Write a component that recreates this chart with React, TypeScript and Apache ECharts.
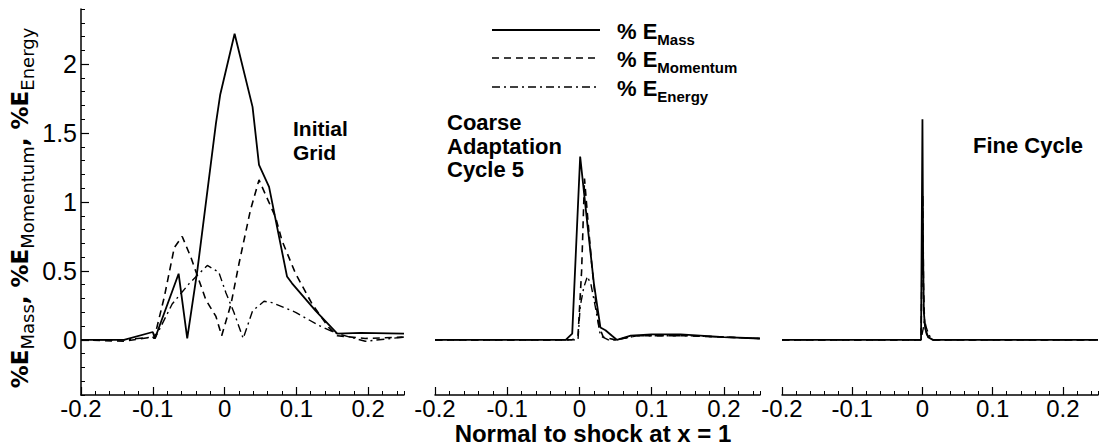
import React, { useEffect, useRef } from 'react';
import * as echarts from 'echarts';

// ---------- data ----------
const xMajorTicks = [-0.2, -0.1, 0, 0.1, 0.2];
const yMajorTicks = [0, 0.5, 1, 1.5, 2];

// Panel 1: Initial Grid
const initMassX = [-0.2, -0.14, -0.1, -0.097, -0.064, -0.052, -0.038, -0.012, -0.006, 0.014, 0.039, 0.048, 0.062, 0.087, 0.094, 0.127, 0.157, 0.19, 0.25];
const initMassY = [0, 0, 0.057, 0.01, 0.48, 0.01, 0.5, 1.57, 1.78, 2.22, 1.69, 1.27, 1.11, 0.46, 0.41, 0.21, 0.045, 0.05, 0.045];
const initMomX = [-0.2, -0.14, -0.1, -0.098, -0.084, -0.07, -0.059, -0.047, -0.026, -0.012, -0.004, 0.009, 0.02, 0.036, 0.048, 0.071, 0.08, 0.099, 0.122, 0.145, 0.157, 0.196, 0.25];
const initMomY = [0, -0.01, 0.02, 0.01, 0.31, 0.67, 0.75, 0.6, 0.29, 0.17, 0.03, 0.26, 0.55, 0.94, 1.16, 0.89, 0.72, 0.48, 0.26, 0.09, 0.03, 0.01, 0.02];
const initEnX = [-0.2, -0.14, -0.1, -0.097, -0.073, -0.049, -0.024, -0.008, 0.002, 0.013, 0.026, 0.039, 0.055, 0.066, 0.099, 0.131, 0.157, 0.196, 0.25];
const initEnY = [0, 0, 0.02, 0.01, 0.26, 0.41, 0.54, 0.49, 0.34, 0.2, 0.01, 0.21, 0.28, 0.27, 0.2, 0.105, 0.045, -0.01, 0.02];

// Panel 2: Coarse Adaptation Cycle 5
const coarseMassX = [-0.2, -0.1, -0.019, -0.01, 0.001, 0.011, 0.02, 0.029, 0.036, 0.045, 0.052, 0.071, 0.1, 0.14, 0.2, 0.25];
const coarseMassY = [0, 0, 0, 0.045, 1.33, 0.84, 0.41, 0.09, 0.07, 0.03, 0.0, 0.03, 0.04, 0.04, 0.02, 0.01];
const coarseMomX = [-0.2, -0.1, -0.01, -0.002, 0.003, 0.007, 0.012, 0.017, 0.022, 0.027, 0.033, 0.05, 0.08, 0.15, 0.25];
const coarseMomY = [0, 0, 0, 0.03, 0.5, 1.17, 0.85, 0.55, 0.3, 0.1, 0.02, 0, 0.03, 0.03, 0.01];
const coarseEnX = [-0.2, -0.1, -0.01, -0.002, 0.001, 0.006, 0.011, 0.016, 0.022, 0.029, 0.04, 0.05, 0.08, 0.15, 0.25];
const coarseEnY = [0, 0, 0, 0, 0.24, 0.38, 0.46, 0.4, 0.24, 0.03, 0.0, 0.0, 0.03, 0.03, 0.01];

// Panel 3: Fine Cycle
const fineMassX = [-0.2, -0.1, -0.002, 0.0, 0.001, 0.002, 0.004, 0.008, 0.015, 0.1, 0.25];
const fineMassY = [0, 0, 0, 1.6, 0.6, 0.2, 0.08, 0.02, 0, 0, 0];
const fineMomX = [-0.2, -0.1, -0.002, 0.0005, 0.0015, 0.003, 0.006, 0.012, 0.1, 0.25];
const fineMomY = [0, 0, 0, 1.05, 0.4, 0.12, 0.04, 0, 0, 0];
const fineEnX = [-0.2, -0.1, -0.002, 0.001, 0.003, 0.006, 0.01, 0.014, 0.1, 0.25];
const fineEnY = [0, 0, 0, 0.08, 0.14, 0.08, 0.03, 0, 0, 0];

const quantityNames = ['Mass', 'Momentum', 'Energy'];
const panelLabels = ['Initial\nGrid', 'Coarse\nAdaptation\nCycle 5', 'Fine Cycle'];
const xTitle = 'Normal to shock at x = 1';

// ---------- layout / style ----------
const FONT = "'Liberation Sans', Arial, Helvetica, sans-serif";
const WIDE_FONT = "'DejaVu Sans', 'Liberation Sans', sans-serif";
const grids = [
  { left: 81, top: 9, width: 323, height: 386 },
  { left: 435, top: 9, width: 325, height: 386 },
  { left: 782, top: 9, width: 321, height: 386 },
];
const lineStyles: any[] = [
  { type: 'solid', width: 1.8, color: '#000' },
  { type: [7, 5], width: 1.6, color: '#000' },
  { type: [8, 4, 2, 4], width: 1.4, color: '#000' },
];

const zip = (xs: number[], ys: number[]) => xs.map((x, i) => [x, ys[i]]);
const panelData = [
  [zip(initMassX, initMassY), zip(initMomX, initMomY), zip(initEnX, initEnY)],
  [zip(coarseMassX, coarseMassY), zip(coarseMomX, coarseMomY), zip(coarseEnX, coarseEnY)],
  [zip(fineMassX, fineMassY), zip(fineMomX, fineMomY), zip(fineEnX, fineEnY)],
];

function isMultiple(v: number, step: number) {
  const r = v / step;
  return Math.abs(r - Math.round(r)) < 1e-6;
}

function buildOption() {
  const xAxis: any[] = [];
  const yAxis: any[] = [];
  grids.forEach((_, k) => {
    xAxis.push({
      type: 'value', gridIndex: k, position: 'bottom', min: -0.2, max: 0.25, interval: 0.02,
      axisLine: { show: true, onZero: false, lineStyle: { color: '#000', width: 1.5 } },
      axisTick: { show: true, inside: true, length: 4, lineStyle: { color: '#000', width: 1 } },
      axisLabel: {
        show: true, margin: 1, color: '#000', fontSize: 24, fontFamily: FONT,
        formatter: (v: number) => (isMultiple(v, 0.1) && v < 0.249 ? String(Math.round(v * 10) / 10) : ''),
      },
      splitLine: { show: false },
    });
    xAxis.push({
      type: 'value', gridIndex: k, position: 'bottom', min: -0.2, max: 0.25,
      axisLine: { show: false, onZero: false },
      axisTick: { show: true, inside: true, length: 8, customValues: xMajorTicks, lineStyle: { color: '#000', width: 1.2 } },
      axisLabel: { show: false },
      splitLine: { show: false },
    });
  });
  yAxis.push({
    type: 'value', gridIndex: 0, position: 'left', min: -0.4, max: 2.4, interval: 0.1,
    axisLine: { show: true, onZero: false, lineStyle: { color: '#000', width: 1.5 } },
    axisTick: { show: true, inside: true, length: 4, lineStyle: { color: '#000', width: 1 } },
    axisLabel: {
      show: true, margin: 4, color: '#000', fontSize: 25, fontFamily: FONT,
      formatter: (v: number) => (isMultiple(v, 0.5) && v > -0.01 && v < 2.3 ? String(Math.round(v * 10) / 10) : ''),
    },
    splitLine: { show: false },
  });
  yAxis.push({
    type: 'value', gridIndex: 0, position: 'left', min: -0.4, max: 2.4,
    axisLine: { show: false, onZero: false },
    axisTick: { show: true, inside: true, length: 8, customValues: yMajorTicks, lineStyle: { color: '#000', width: 1.2 } },
    axisLabel: { show: false },
    splitLine: { show: false },
  });
  yAxis.push({ type: 'value', gridIndex: 1, min: -0.4, max: 2.4, show: false, splitLine: { show: false } });
  yAxis.push({ type: 'value', gridIndex: 2, min: -0.4, max: 2.4, show: false, splitLine: { show: false } });

  const yIdx = [0, 2, 3];
  const series: any[] = [];
  panelData.forEach((panel, k) => {
    panel.forEach((data, q) => {
      series.push({
        type: 'line', name: quantityNames[q], xAxisIndex: 2 * k, yAxisIndex: yIdx[k],
        data, symbol: 'none', showSymbol: false, lineStyle: lineStyles[q], clip: true, silent: true,
      });
    });
  });

  const legendYs = [30, 58, 87];
  const legendGraphics: any[] = [];
  quantityNames.forEach((name, i) => {
    legendGraphics.push({
      type: 'line', shape: { x1: 492, y1: legendYs[i], x2: 600, y2: legendYs[i] },
      style: { stroke: '#000', lineWidth: lineStyles[i].width, lineDash: lineStyles[i].type === 'solid' ? null : lineStyles[i].type },
    });
    legendGraphics.push({
      type: 'text', x: 617, y: legendYs[i] - 14,
      style: {
        text: `{m|% E}{s|${name}}`, fill: '#000', align: 'left', verticalAlign: 'top',
        rich: {
          m: { fontSize: 22, fontWeight: 'bold', fontFamily: FONT, fill: '#000', lineHeight: 24 },
          s: { fontSize: 15, fontWeight: 'bold', fontFamily: FONT, fill: '#000', padding: [16, 0, 0, 0] },
        },
      },
    });
  });

  const graphic: any[] = [
    ...legendGraphics,
    {
      type: 'text', x: 20, y: 208, rotation: Math.PI / 2,
      style: {
        text: '{m|%E}{s|Mass}{m|, %E}{s|Momentum}{m|, %E}{s|Energy}',
        fill: '#000', align: 'center', verticalAlign: 'middle',
        rich: {
          m: { fontSize: 23, fontWeight: 'bold', fontFamily: WIDE_FONT, fill: '#000', lineHeight: 24 },
          s: { fontSize: 18, fontFamily: WIDE_FONT, fill: '#000', padding: [15, 0, 0, 0] },
        },
      },
    },
    {
      type: 'text', x: 293, y: 116,
      style: { text: panelLabels[0], fill: '#000', fontSize: 21, fontWeight: 'bold', fontFamily: FONT, lineHeight: 24, align: 'left', verticalAlign: 'top' },
    },
    {
      type: 'text', x: 447, y: 111,
      style: { text: panelLabels[1], fill: '#000', fontSize: 22, fontWeight: 'bold', fontFamily: FONT, lineHeight: 23.5, align: 'left', verticalAlign: 'top' },
    },
    {
      type: 'text', x: 973, y: 145,
      style: { text: panelLabels[2], fill: '#000', fontSize: 22, fontWeight: 'bold', fontFamily: FONT, align: 'left', verticalAlign: 'middle' },
    },
    {
      type: 'text', x: 593, y: 433,
      style: { text: xTitle, fill: '#000', fontSize: 24, fontWeight: 'bold', fontFamily: FONT, align: 'center', verticalAlign: 'middle' },
    },
  ];

  return {
    animation: false,
    backgroundColor: '#fff',
    grid: grids.map((g) => ({ ...g, containLabel: false })),
    xAxis,
    yAxis,
    series,
    graphic,
  };
}

export default function App() {
  const ref = useRef<HTMLDivElement>(null);
  useEffect(() => {
    if (!ref.current) return;
    const chart = echarts.init(ref.current, null, { renderer: 'svg' });
    chart.setOption(buildOption() as any);
    return () => chart.dispose();
  }, []);
  return (
    <div
      ref={ref}
      style={{ position: 'absolute', left: 0, top: 0, width: 1101, height: 445, background: '#fff' }}
    />
  );
}
